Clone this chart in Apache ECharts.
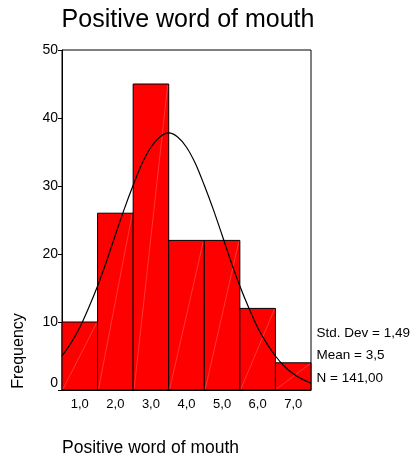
<!DOCTYPE html>
<html>
<head>
<meta charset="utf-8">
<script src="https://cdn.jsdelivr.net/npm/echarts@6/dist/echarts.min.js"></script>
<style>html,body{margin:0;padding:0;background:#fff}#c{width:412px;height:458px}</style>
</head>
<body>
<div id="c"></div>
<script>
const titleText = 'Positive word of mouth';
const xAxisTitle = 'Positive word of mouth';
const yAxisTitle = 'Frequency';
const categories = ['1,0', '2,0', '3,0', '4,0', '5,0', '6,0', '7,0'];
const binCenters = [1, 2, 3, 4, 5, 6, 7];
const frequencies = [10, 26, 45, 22, 22, 12, 4];
const curveX = [0.5, 0.75, 1, 1.25, 1.5, 1.75, 2, 2.25, 2.5, 2.75, 3, 3.25, 3.5, 3.75, 4, 4.25, 4.5, 4.75, 5, 5.25, 5.5, 5.75, 6, 6.25, 6.5, 6.75, 7, 7.25, 7.5];
const curveY = [5.0, 6.9, 9.2, 12.1, 15.3, 18.9, 22.8, 26.6, 30.1, 33.3, 35.7, 37.2, 37.8, 37.2, 35.7, 33.3, 30.1, 26.6, 22.8, 18.9, 15.3, 12.1, 9.2, 6.9, 5.0, 3.5, 2.4, 1.6, 1.0];
const yTicks = [0, 10, 20, 30, 40, 50];
const statsLines = ['Std. Dev = 1,49', 'Mean = 3,5', 'N = 141,00'];

const FONT = '"Liberation Sans", Arial, sans-serif';
const chart = echarts.init(document.getElementById('c'), null, {renderer: 'canvas'});

const barData = binCenters.map((x, i) => [x, frequencies[i]]);
const curveData = curveX.map((x, i) => [x, curveY[i]]);

const option = {
  animation: false,
  backgroundColor: '#fff',
  grid: {left: 62, top: 50, width: 249, height: 340, show: true, borderColor: '#000', borderWidth: 1, backgroundColor: 'transparent'},
  xAxis: {
    type: 'value', min: 0.5, max: 7.5,
    axisLine: {show: true, lineStyle: {color: '#000', width: 1}},
    axisTick: {show: false},
    splitLine: {show: false},
    axisLabel: {
      customValues: binCenters,
      color: '#000', fontSize: 13, fontFamily: FONT, margin: 8,
      formatter: v => { const i = binCenters.indexOf(v); return i >= 0 ? categories[i] : ''; }
    }
  },
  yAxis: {
    type: 'value', min: yTicks[0], max: yTicks[yTicks.length - 1], interval: 10,
    axisLine: {show: true, lineStyle: {color: '#000', width: 1}},
    axisTick: {show: true, length: 4, lineStyle: {color: '#000'}},
    splitLine: {show: false},
    axisLabel: {
      color: '#000', fontSize: 14, fontFamily: FONT, margin: 4,
      formatter: v => v === 0 ? '{z|0}' : String(v),
      rich: {z: {fontSize: 14, fontFamily: FONT, color: '#000', padding: [0, 0, 14, 0]}}
    }
  },
  series: [
    {
      type: 'custom',
      data: barData,
      z: 2,
      renderItem: function (params, api) {
        const x = api.value(0), y = api.value(1);
        const p0 = api.coord([x - 0.5, 0]);
        const p1 = api.coord([x + 0.5, y]);
        return {
          type: 'group',
          children: [
            {type: 'rect', shape: {x: p0[0], y: p1[1], width: p1[0] - p0[0], height: p0[1] - p1[1]},
             style: {fill: '#ff0000', stroke: '#000', lineWidth: 1}},
            {type: 'line', shape: {x1: p0[0] + 1, y1: p0[1] - 1, x2: p1[0] - 1, y2: p1[1] + 1},
             style: {stroke: 'rgba(255,255,255,0.3)', lineWidth: 0.7}}
          ]
        };
      }
    },
    {
      type: 'line',
      data: curveData,
      z: 3,
      smooth: 0.3,
      symbol: 'none',
      lineStyle: {color: '#000', width: 1.2}
    }
  ],
  graphic: [
    {type: 'text', x: 188, y: 20.5, style: {text: titleText, font: '25px ' + FONT, fill: '#000', textAlign: 'center', textVerticalAlign: 'middle'}},
    {type: 'text', x: 62, y: 448, style: {text: xAxisTitle, font: '17.5px ' + FONT, fill: '#000', textAlign: 'left', textVerticalAlign: 'middle'}},
    {type: 'text', x: 19, y: 351, rotation: Math.PI / 2, style: {text: yAxisTitle, font: '16px ' + FONT, fill: '#000', textAlign: 'center', textVerticalAlign: 'middle'}},
    {type: 'text', x: 316.5, y: 333, style: {text: statsLines[0], font: '13.5px ' + FONT, fill: '#000', textAlign: 'left', textVerticalAlign: 'middle'}},
    {type: 'text', x: 316.5, y: 355, style: {text: statsLines[1], font: '13.5px ' + FONT, fill: '#000', textAlign: 'left', textVerticalAlign: 'middle'}},
    {type: 'text', x: 316.5, y: 378.5, style: {text: statsLines[2], font: '13.5px ' + FONT, fill: '#000', textAlign: 'left', textVerticalAlign: 'middle'}}
  ]
};
chart.setOption(option);
</script>
</body>
</html>
